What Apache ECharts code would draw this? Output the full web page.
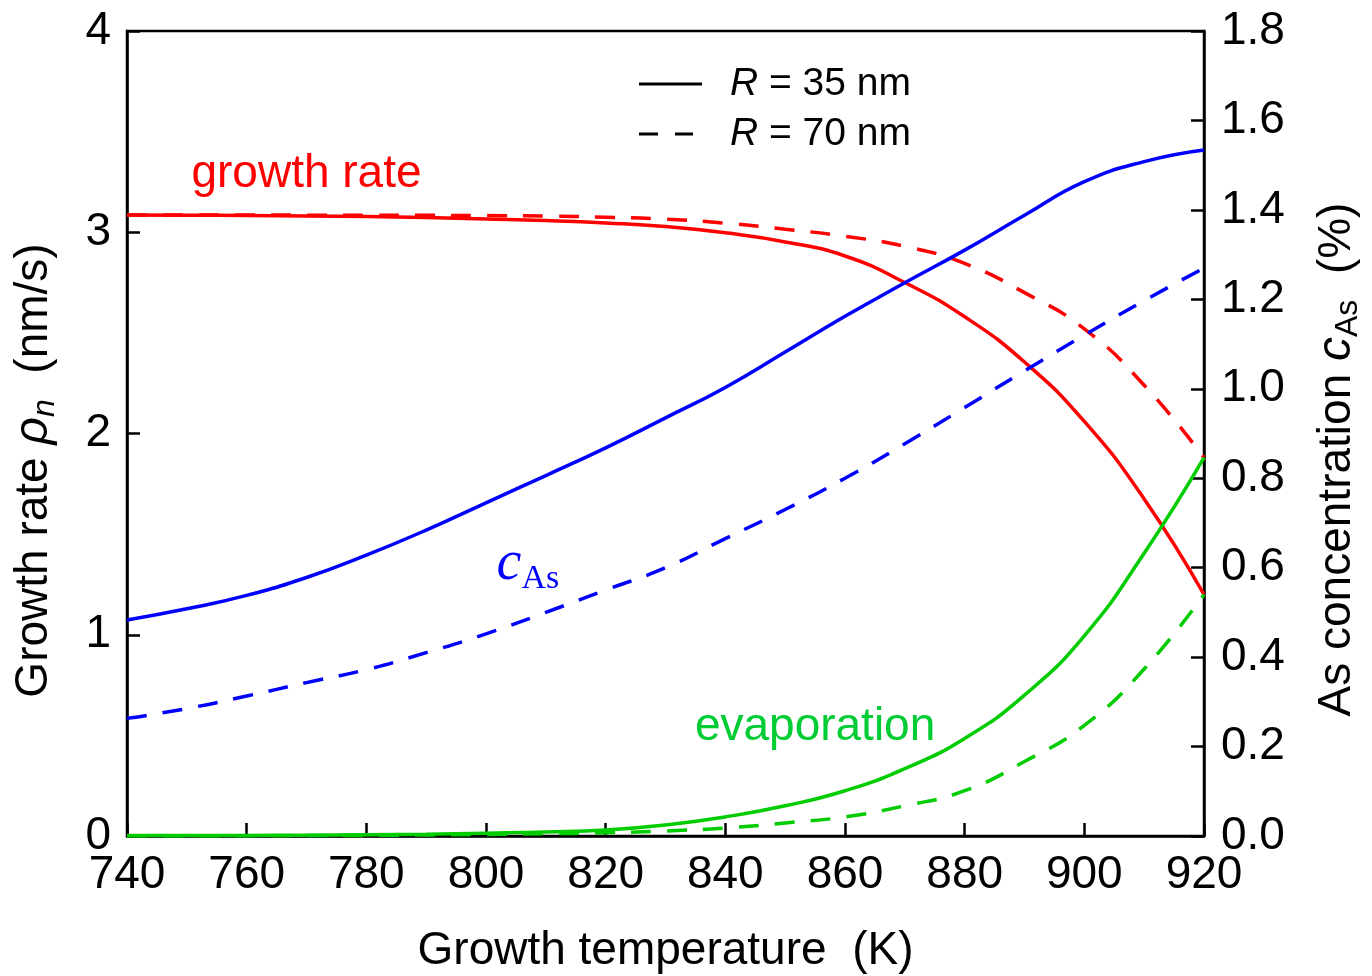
<!DOCTYPE html>
<html>
<head>
<meta charset="utf-8">
<title>Growth rate and As concentration</title>
<script src="https://cdn.jsdelivr.net/npm/echarts@6/dist/echarts.min.js"></script>
<style>
  html, body { margin: 0; padding: 0; background: #fff; }
  #chart { width: 1372px; height: 976px; }
</style>
</head>
<body>
<div id="chart"></div>
<script>
// growth temperature (K)
const temps = [740, 750, 760, 770, 780, 790, 800, 810, 820, 830, 840, 850, 860, 870, 880, 890, 900, 910, 920]

// growth rate (nm/s), left axis
const growthR35 = [3.086, 3.085, 3.083, 3.081, 3.078, 3.073, 3.066, 3.058, 3.046, 3.028, 2.997, 2.952, 2.882, 2.75, 2.58, 2.355, 2.06, 1.675, 1.20]
const growthR70 = [3.086, 3.086, 3.086, 3.085, 3.085, 3.084, 3.083, 3.080, 3.075, 3.065, 3.045, 3.015, 2.98, 2.93, 2.845, 2.70, 2.52, 2.24, 1.88]

// evaporation (nm/s), left axis
const evapR35 = [0.002, 0.002, 0.003, 0.004, 0.006, 0.009, 0.014, 0.02, 0.03, 0.055, 0.095, 0.15, 0.225, 0.335, 0.485, 0.70, 0.995, 1.405, 1.88]
const evapR70 = [0.0, 0.0, 0.001, 0.002, 0.003, 0.005, 0.008, 0.011, 0.016, 0.025, 0.04, 0.065, 0.095, 0.15, 0.225, 0.37, 0.55, 0.83, 1.20]

// As concentration (%), right axis
const casR35 = [0.483, 0.508, 0.538, 0.578, 0.628, 0.684, 0.745, 0.806, 0.868, 0.935, 1.003, 1.082, 1.162, 1.237, 1.31, 1.388, 1.463, 1.508, 1.534]
const casR70 = [0.263, 0.285, 0.313, 0.343, 0.372, 0.41, 0.452, 0.50, 0.55, 0.60, 0.665, 0.73, 0.80, 0.877, 0.958, 1.04, 1.12, 1.197, 1.27]

const leftTicks = { min: 0, max: 4, interval: 1 }
const rightTicks = { min: 0, max: 1.8, interval: 0.2 }

// text labels inside the plot: [temperature, growth-rate axis value]
const growthLabelAt = [770, 3.29]
const evapLabelAt = [855, 0.54]
const casLabelAt = [807, 1.34]

const RED = '#ff0000'
const BLUE = '#0000ff'
const GREEN = '#00cc00'
const FONT = '"Liberation Sans", Arial, sans-serif'
const SERIF = '"Liberation Serif", serif'
const DASH = [20, 16]

const pairs = (ys) => temps.map((t, i) => [t, ys[i]])

const line = (name, ys, color, dashed, yAxisIndex) => ({
  name,
  type: 'line',
  yAxisIndex,
  data: pairs(ys),
  symbol: 'none',
  smooth: true,
  lineStyle: { color, width: 3.5, type: dashed ? DASH : 'solid' },
  itemStyle: { color },
  silent: true,
  z: 3,
})

const axisLabel = { color: '#000', fontSize: 46, fontFamily: FONT }
const axisLine = { show: true, lineStyle: { color: '#000', width: 2.5 } }
const axisTick = { show: true, inside: true, length: 13, lineStyle: { color: '#000', width: 2.5 } }

const nameStyle = (subItalic, shift) => ({
  color: '#000', fontSize: 46, fontFamily: FONT, lineHeight: 54,
  padding: [0, shift, 0, 0],
  rich: {
    it: { fontStyle: 'italic', fontSize: 48, fontFamily: FONT, color: '#000', lineHeight: 54 },
    sub: { fontStyle: subItalic ? 'italic' : 'normal', fontSize: 32, fontFamily: FONT, color: '#000', verticalAlign: 'bottom', lineHeight: 32 },
  },
})

const chart = echarts.init(document.getElementById('chart'))

const option = {
  animation: false,
  backgroundColor: '#fff',
  grid: {
    left: 127, right: 168, top: 31, bottom: 140,
    outerBoundsMode: 'none',
    containLabel: false,
    show: true, borderColor: '#000', borderWidth: 2.5,
  },
  legend: {
    orient: 'vertical',
    left: 639,
    top: 63,
    padding: 0,
    itemWidth: 63,
    itemHeight: 3,
    itemGap: 8,
    selectedMode: false,
    data: [
      { name: 'R35', icon: 'path://M0 0H63V3H0Z' },
      { name: 'R70', icon: 'path://M0 0H19V3H0Z M36 0H54V3H36Z M63 0' },
    ],
    formatter: (name) => name === 'R35' ? '{i|R} = 35 nm' : '{i|R} = 70 nm',
    textStyle: {
      color: '#000', fontSize: 39, fontFamily: FONT, lineHeight: 42, padding: [0, 0, 0, 23],
      rich: { i: { fontStyle: 'italic', fontSize: 39, fontFamily: FONT, color: '#000', lineHeight: 42 } },
    },
  },
  xAxis: {
    type: 'value',
    min: 740, max: 920, interval: 20,
    name: 'Growth temperature  (K)',
    nameLocation: 'middle',
    nameGap: 92,
    nameTextStyle: { color: '#000', fontSize: 46, fontFamily: FONT },
    axisLine, axisTick,
    axisLabel: { ...axisLabel, margin: 16 },
    splitLine: { show: false },
  },
  yAxis: [
    {
      type: 'value',
      ...leftTicks,
      position: 'left',
      name: 'Growth rate {it|ρ}{sub|n}  (nm/s)',
      nameLocation: 'middle',
      nameRotate: 90,
      nameGap: 66,
      nameTextStyle: nameStyle(true, 74),
      axisLine, axisTick,
      axisLabel: { ...axisLabel, margin: 16 },
      splitLine: { show: false },
    },
    {
      type: 'value',
      ...rightTicks,
      position: 'right',
      name: 'As concentration {it|c}{sub|As}  (%)',
      nameLocation: 'middle',
      nameRotate: 90,
      nameGap: 106,
      nameTextStyle: nameStyle(false, 52),
      axisLine, axisTick,
      axisLabel: { ...axisLabel, margin: 17, formatter: (v) => v.toFixed(1) },
      splitLine: { show: false },
    },
  ],
  series: [
    line('growth R35', growthR35, RED, false, 0),
    line('growth R70', growthR70, RED, true, 0),
    line('cAs R35', casR35, BLUE, false, 1),
    line('cAs R70', casR70, BLUE, true, 1),
    line('evap R35', evapR35, GREEN, false, 0),
    line('evap R70', evapR70, GREEN, true, 0),
    // legend-only entries
    { name: 'R35', type: 'line', data: [], symbol: 'none', lineStyle: { color: '#000', width: 3 }, itemStyle: { color: '#000' } },
    { name: 'R70', type: 'line', data: [], symbol: 'none', lineStyle: { color: '#000', width: 3, type: DASH }, itemStyle: { color: '#000' } },
  ],
}

chart.setOption(option)

// place the in-plot labels through the axes
const at = (p) => chart.convertToPixel({ xAxisIndex: 0, yAxisIndex: 0 }, p)
const g = at(growthLabelAt)
const e = at(evapLabelAt)
const c = at(casLabelAt)

chart.setOption({
  graphic: [
    {
      type: 'text', x: g[0], y: g[1],
      style: { text: 'growth rate', fill: RED, font: '46px ' + FONT, align: 'center', verticalAlign: 'middle' },
    },
    {
      type: 'text', x: e[0], y: e[1],
      style: { text: 'evaporation', fill: '#00cc33', font: '46px ' + FONT, align: 'center', verticalAlign: 'middle' },
    },
    {
      type: 'text', x: c[0], y: c[1],
      style: {
        text: '{c|c}{s|As}', align: 'center', verticalAlign: 'middle',
        rich: {
          c: { fill: BLUE, fontSize: 56, fontStyle: 'italic', fontFamily: SERIF, lineHeight: 60, verticalAlign: 'top' },
          s: { fill: BLUE, fontSize: 34, fontFamily: SERIF, verticalAlign: 'bottom', lineHeight: 26 },
        },
      },
    },
  ],
})

window.addEventListener('resize', () => chart.resize())
</script>
</body>
</html>
